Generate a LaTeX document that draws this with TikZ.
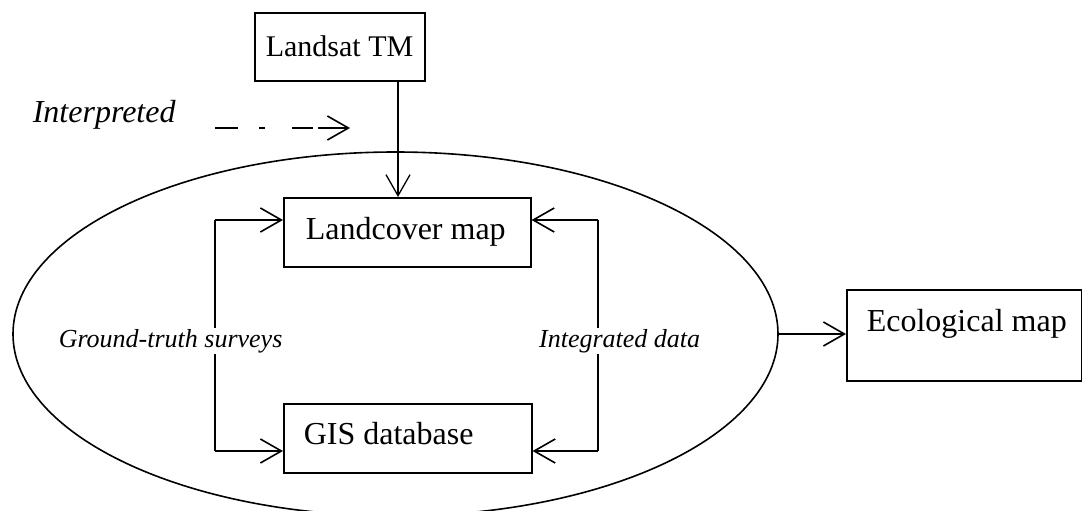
\documentclass[tikz,border=0pt]{standalone}
\usepackage{fontspec}
\setmainfont{Liberation Serif}
\usetikzlibrary{shapes.geometric,arrows.meta}
\begin{document}
\begin{tikzpicture}[x=1pt,y=-1pt,
  line width=1.6pt,
  >={Straight Barb[length=21pt,width=24pt]},
  box/.style={draw,line width=1.6pt,inner sep=0pt,anchor=north west},
  txt/.style={inner sep=0pt,anchor=base west,font=\fontsize{32}{36}\selectfont},
  lbl/.style={inner sep=1pt,fill=white,font=\fontsize{26}{30}\selectfont\itshape}]
\useasboundingbox (0,0) rectangle (1082,511);
\clip (0,0) rectangle (1082,511);
% ellipse
\node[ellipse,draw,line width=1.6pt,minimum width=765pt,minimum height=364pt,inner sep=0pt] (ell) at (395.5,334) {};
% boxes
\node[box,minimum width=170pt,minimum height=68pt] (ls) at (254,12) {};
\node[txt,font=\fontsize{30}{34}\selectfont] (lst) at (265,57) {Landsat TM};
\node[box,minimum width=247pt,minimum height=69pt] (lc) at (283,197) {};
\node[txt] (lct) at (305,239) {Landcover map};
\node[box,minimum width=248pt,minimum height=69pt] (gis) at (283,403) {};
\node[txt] (gist) at (303,444) {GIS database};
\node[box,minimum width=235pt,minimum height=91pt] (eco) at (846,289) {};
\node[txt] (ecot) at (866,331) {Ecological map};
% coordinates
\coordinate (a1) at (398,0);
\coordinate (l1) at (215,220);
\coordinate (l2) at (215,451);
\coordinate (r1) at (598,220);
\coordinate (r2) at (598,451);
% connectors
\draw[->,line width=1.3pt] (ls.south -| a1) -- (lc.north -| a1);
\draw[->] (l1) -- (lc.west |- l1);
\draw (l1) -- (l2);
\draw[->] (l2) -- (gis.west |- l2);
\draw[->] (r1) -- (lc.east |- r1);
\draw (r1) -- (r2);
\draw[->] (r2) -- (gis.east |- r2);
\draw[->] (ell.east) -- (eco.west |- ell.east);
% labels
\node[lbl,anchor=base west] (gts) at (57,347) {Ground-truth surveys};
\node[lbl,anchor=base east] (intd) at (702,347) {Integrated data};
\node[inner sep=0pt,anchor=base west,font=\fontsize{32}{36}\selectfont\itshape] (interp) at (32,122) {Interpreted};
% dashed arrow
\coordinate (d0) at (215,128);
\coordinate (d1) at (238,128);
\coordinate (d2) at (259,128);
\coordinate (d3) at (265,128);
\coordinate (d4) at (292,128);
\coordinate (d5) at (313,128);
\coordinate (d6) at (318,128);
\coordinate (d7) at (350,128);
\draw (d0) -- (d1);
\draw (d2) -- (d3);
\draw (d4) -- (d5);
\draw[->] (d6) -- (d7);
\end{tikzpicture}
\end{document}
